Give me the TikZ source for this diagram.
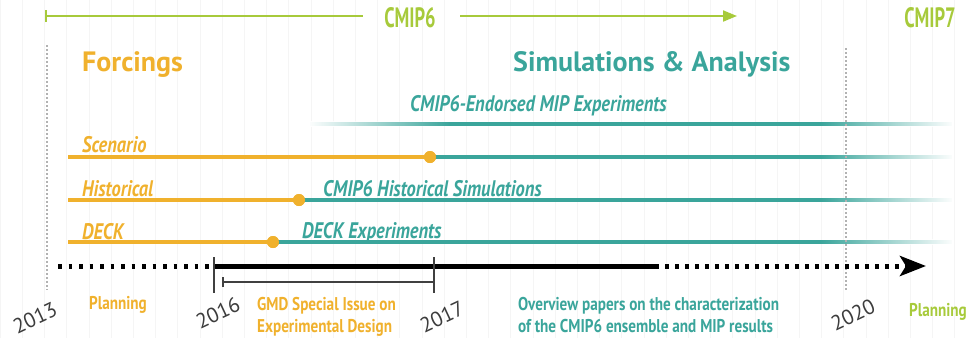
\documentclass[tikz,border=0pt]{standalone}
\usepackage{fontspec}
\setmainfont{PT Sans}
\newfontfamily\condfont{PT Sans}[FakeStretch=0.82]
\newfontfamily\narrowfont{PT Sans}[FakeStretch=0.66]
\usetikzlibrary{arrows.meta,fadings}

\definecolor{forcing}{HTML}{F0B12D}
\definecolor{simteal}{HTML}{3AA59B}
\definecolor{cmipgreen}{HTML}{A7CA3B}
\definecolor{yeargray}{HTML}{3C3C3C}

\tikzfading[name=fadeout, left color=transparent!100, right color=transparent!0]
\tikzfading[name=fadein, left color=transparent!0, right color=transparent!100]

\tikzset{
  head/.style={font=\bfseries\fontsize{28}{30}\selectfont, inner sep=0pt},
  phase/.style={font=\narrowfont\bfseries\fontsize{28}{30}\selectfont, text=cmipgreen, inner sep=0pt},
  tag/.style={font=\condfont\bfseries\itshape\fontsize{22.5}{24}\selectfont, inner sep=0pt},
  note/.style={font=\condfont\bfseries\fontsize{18.5}{22.5}\selectfont, inner sep=0pt, align=left},
  year/.style={font=\fontsize{21}{24}\selectfont, text=yeargray, rotate=25, inner sep=0pt},
  forceline/.style={forcing, line width=4pt},
  simline/.style={simteal, line width=4pt},
  yearmark/.style={gray!60, line width=1.5pt, dash pattern=on 1.5pt off 2.5pt},
  dot/.style={circle, fill=forcing, minimum size=12pt, inner sep=0pt},
}

\begin{document}
\begin{tikzpicture}[x=1pt, y=-1pt]
    \useasboundingbox (0,0) rectangle (975,338);
    \draw[black!4, step=22.2] (0,0) grid (975,338);

    % CMIP6 / CMIP7 phases
    \node[phase] (cmip6) at (410,18) {CMIP6};
    \node[phase] (cmip7) at (930,18) {CMIP7};
    \coordinate (c6start) at (45,16);
    \coordinate (c6left) at (363,16);
    \coordinate (c6right) at (460,16);
    \coordinate (c6end) at (737,16);
    \draw[cmipgreen, line width=2pt, {Bar[width=12pt]}-] (c6start) -- (c6left);
    \draw[cmipgreen, line width=2pt, -{Triangle[length=14pt,width=11pt]}] (c6right) -- (c6end);

    \node[head, text=forcing, anchor=base west] (forc) at (82,71) {Forcings};
    \node[head, text=simteal, anchor=base west] (simana) at (513,71) {Simulations \& Analysis};

    % forcing rows
    \node[dot] (scen) at (430,157) {};
    \node[dot] (hist) at (299,200) {};
    \node[dot] (deck) at (273,242) {};
    \coordinate (mip) at (310,124);
    \draw[forceline] (68,157) -- (scen.center);
    \draw[forceline] (68,200) -- (hist.center);
    \draw[forceline] (68,242) -- (deck.center);

    \draw[simline] (mip) -- (952,124);
    \draw[simline] (scen.center) -- (952,157);
    \draw[simline] (hist.center) -- (952,200);
    \draw[simline] (deck.center) -- (952,242);
    \fill[white, path fading=fadein] (308,121) rectangle (450,127);
    \foreach \y in {124,157,200,242}
      \fill[white, path fading=fadeout] (820,\y-3) rectangle (954,\y+3);
    \node[dot] at (scen) {};
    \node[dot] at (hist) {};
    \node[dot] at (deck) {};

    % year marks
    \draw[yearmark] (47,45) -- (47,290);
    \draw[yearmark] (846,48) -- (846,292);

    \node[tag, text=forcing, anchor=base west] (scenlbl) at (82,152) {Scenario};
    \node[tag, text=forcing, anchor=base west] (histlbl) at (82,196) {Historical};
    \node[tag, text=forcing, anchor=base west] (decklbl) at (82,239) {DECK};
    \node[tag, text=simteal, anchor=base west] (miplbl) at (410,111) {CMIP6-Endorsed MIP Experiments};
    \node[tag, text=simteal, anchor=base west] (histsim) at (323,196) {CMIP6 Historical Simulations};
    \node[tag, text=simteal, anchor=base west] (deckexp) at (302,238) {DECK Experiments};

    % timeline
    \coordinate (t13) at (58,266);
    \coordinate (t16) at (214,266);
    \coordinate (t17) at (434,266);
    \coordinate (tpub) at (655,266);
    \coordinate (tip) at (926,266);
    \draw[line width=5pt, dash pattern=on 3.5pt off 7pt] (t13) -- (t16);
    \draw[line width=5pt] (t16) -- (tpub);
    \draw[line width=5pt, dash pattern=on 3.5pt off 6.5pt, -{Stealth[length=26pt,width=20pt,inset=6pt]}] (tpub) -- (tip);
    \draw[black!75, line width=1.5pt] (214,257) -- (214,293);
    \draw[black!75, line width=1.5pt] (434,257) -- (434,293);
    \draw[black!75, line width=1.5pt, {Bar[width=10pt]}-] (222,282) -- (t17 |- 0,282);

    \node[year] (y13) at (35,318) {2013};
    \node[year] (y16) at (218,313) {2016};
    \node[year] (y17) at (442,317) {2017};
    \node[year] (y20) at (853,315) {2020};

    \node[note, text=forcing] (plan1) at (118,305) {Planning};
    \node[note, text=forcing, anchor=north west] (gmd) at (257,297) {GMD Special Issue on\\Experimental Design};
    \node[note, text=simteal, anchor=north west] (overview) at (518,297) {Overview papers on the characterization\\of the CMIP6 ensemble and MIP results};
    \node[note, text=cmipgreen] (plan2) at (938,312) {Planning};
\end{tikzpicture}
\end{document}
